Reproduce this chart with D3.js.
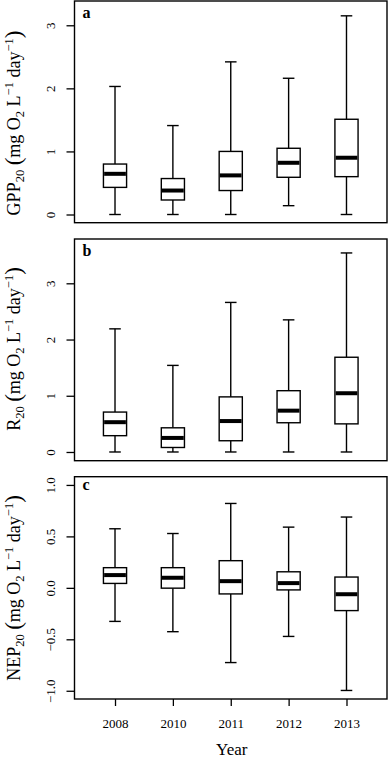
<!DOCTYPE html>
<html>
<head>
<meta charset="utf-8">
<script src="https://d3js.org/d3.v7.min.js"></script>
<style>
  body { margin: 0; background: #fff; }
  text { font-family: "Liberation Serif", "DejaVu Serif", serif; fill: #000; }
</style>
</head>
<body>
<div id="chart"></div>
<script>
// years on the x axis
var years = ['2008', '2010', '2011', '2012', '2013']

// five-number summaries per year: [lower whisker, Q1, median, Q3, upper whisker]
var gppStats = [
  [0.00, 0.43, 0.645, 0.80, 2.03],
  [0.00, 0.23, 0.38, 0.57, 1.41],
  [0.00, 0.38, 0.62, 1.00, 2.42],
  [0.14, 0.59, 0.82, 1.05, 2.16],
  [0.00, 0.60, 0.90, 1.51, 3.15]
]
var rStats = [
  [0.00, 0.29, 0.53, 0.71, 2.19],
  [0.00, 0.08, 0.25, 0.43, 1.54],
  [0.00, 0.20, 0.55, 0.98, 2.66],
  [0.00, 0.52, 0.735, 1.09, 2.35],
  [0.00, 0.50, 1.045, 1.685, 3.54]
]
var nepStats = [
  [-0.326, 0.043, 0.124, 0.196, 0.574],
  [-0.426, -0.003, 0.098, 0.196, 0.528],
  [-0.726, -0.059, 0.065, 0.264, 0.82],
  [-0.472, -0.02, 0.046, 0.156, 0.59],
  [-0.997, -0.221, -0.062, 0.105, 0.688]
]

var gppTicks = [0, 1, 2, 3]
var rTicks = [0, 1, 2, 3]
var nepTicks = [-1, -0.5, 0, 0.5, 1]

const width = 388
const height = 760
const left = 74.5
const right = 387

var svg = d3.select('#chart').append('svg')
  .attr('width', width)
  .attr('height', height)

var x = d3.scaleLinear().domain([0.3, 5.7]).range([left, right])
var boxW = x(1.4) - x(1)
var capW = boxW / 2

var panels = [
  {stats: gppStats, top: 1, bottom: 222.7, domain: [-0.13, 3.385], ticks: gppTicks,
   fmt: d3.format('d'), name: 'GPP', letter: 'a', letterDy: 16.5, titleY: 123},
  {stats: rStats, top: 239, bottom: 460.7, domain: [-0.155, 3.788], ticks: rTicks,
   fmt: d3.format('d'), name: 'R', letter: 'b', letterDy: 16.5, titleY: 349},
  {stats: nepStats, top: 476.7, bottom: 699, domain: [-1.08, 1.08], ticks: nepTicks,
   fmt: function(d){ return d3.format('.1f')(d).replace('-', '\u2212') }, name: 'NEP', letter: 'c', letterDy: 13.5, titleY: 588}
]

panels.forEach(function(p){
  var y = d3.scaleLinear().domain(p.domain).range([p.bottom, p.top])
  var g = svg.append('g')

  // y axis, R style: labels parallel to axis
  var yAxis = d3.axisLeft(y).tickValues(p.ticks).tickFormat(p.fmt).tickSize(8).tickSizeOuter(0)
  var ax = g.append('g').attr('transform', 'translate(' + left + ',0)').call(yAxis)
  ax.select('.domain').remove()
  ax.selectAll('line').attr('stroke', '#000').attr('stroke-width', 1.3)
  ax.selectAll('text')
    .attr('x', 0).attr('dy', 0)
    .attr('transform', 'translate(-19.5,0) rotate(-90)')
    .attr('text-anchor', 'middle')
    .style('font-size', '13px')
    .style('font-family', '"Liberation Serif", serif')

  // boxes
  var boxes = g.selectAll('.box').data(p.stats).enter().append('g')
  boxes.append('line')
    .attr('x1', function(d, i){ return x(i + 1) }).attr('x2', function(d, i){ return x(i + 1) })
    .attr('y1', function(d){ return y(d[0]) }).attr('y2', function(d){ return y(d[1]) })
    .attr('stroke', '#000').attr('stroke-width', 1.4)
  boxes.append('line')
    .attr('x1', function(d, i){ return x(i + 1) }).attr('x2', function(d, i){ return x(i + 1) })
    .attr('y1', function(d){ return y(d[3]) }).attr('y2', function(d){ return y(d[4]) })
    .attr('stroke', '#000').attr('stroke-width', 1.4)
  boxes.selectAll('.cap').data(function(d, i){ return [[i, d[0]], [i, d[4]]] }).enter().append('line')
    .attr('x1', function(d){ return x(d[0] + 1) - capW / 2 }).attr('x2', function(d){ return x(d[0] + 1) + capW / 2 })
    .attr('y1', function(d){ return y(d[1]) }).attr('y2', function(d){ return y(d[1]) })
    .attr('stroke', '#000').attr('stroke-width', 1.4)
  boxes.append('rect')
    .attr('x', function(d, i){ return x(i + 1) - boxW / 2 })
    .attr('width', boxW)
    .attr('y', function(d){ return y(d[3]) })
    .attr('height', function(d){ return y(d[1]) - y(d[3]) })
    .attr('fill', '#fff').attr('stroke', '#000').attr('stroke-width', 1.4)
  boxes.append('line')
    .attr('x1', function(d, i){ return x(i + 1) - boxW / 2 + 0.7 }).attr('x2', function(d, i){ return x(i + 1) + boxW / 2 - 0.7 })
    .attr('y1', function(d){ return y(d[2]) }).attr('y2', function(d){ return y(d[2]) })
    .attr('stroke', '#000').attr('stroke-width', 4)

  // frame
  g.append('rect')
    .attr('x', left).attr('y', p.top)
    .attr('width', right - left).attr('height', p.bottom - p.top)
    .attr('fill', 'none').attr('stroke', '#000').attr('stroke-width', 1.4)

  // panel letter
  g.append('text')
    .attr('x', left + 8).attr('y', p.top + p.letterDy)
    .style('font-size', '16px').style('font-weight', 'bold')
    .text(p.letter)

  // axis title with sub/superscripts
  var t = g.append('text')
    .attr('transform', 'translate(20,' + p.titleY + ') rotate(-90)')
    .attr('text-anchor', 'middle')
    .style('font-size', '18px')
  t.append('tspan').text(p.name)
  t.append('tspan').attr('dy', 4).style('font-size', '12.5px').text('20')
  t.append('tspan').attr('dy', -4).text(' ')
  t.append('tspan').style('font-size', '23px').attr('dy', 1).text('(')
  t.append('tspan').attr('dy', -1).text('mg O')
  t.append('tspan').attr('dy', 4).style('font-size', '12.5px').text('2')
  t.append('tspan').attr('dy', -4).text(' L')
  t.append('tspan').attr('dy', -7).style('font-size', '12.5px').text('\u22121')
  t.append('tspan').attr('dy', 7).text(' day')
  t.append('tspan').attr('dy', -7).style('font-size', '12.5px').text('\u22121')
  t.append('tspan').attr('dy', 8).style('font-size', '23px').text(')')
})

// x axis below the last panel
var last = panels[panels.length - 1]
var xAxis = d3.axisBottom(x).tickValues([1, 2, 3, 4, 5])
  .tickFormat(function(d){ return years[d - 1] }).tickSize(7).tickSizeOuter(0)
var xa = svg.append('g').attr('transform', 'translate(0,' + last.bottom + ')').call(xAxis)
xa.select('.domain').remove()
xa.selectAll('line').attr('stroke', '#000').attr('stroke-width', 1.3)
xa.selectAll('text')
  .attr('y', 28.7).attr('dy', 0)
  .style('font-size', '13px')
  .style('font-family', '"Liberation Serif", serif')

svg.append('text')
  .attr('x', (left + right) / 2 + 1).attr('y', 755)
  .attr('text-anchor', 'middle')
  .style('font-size', '17px')
  .text('Year')
</script>
</body>
</html>
